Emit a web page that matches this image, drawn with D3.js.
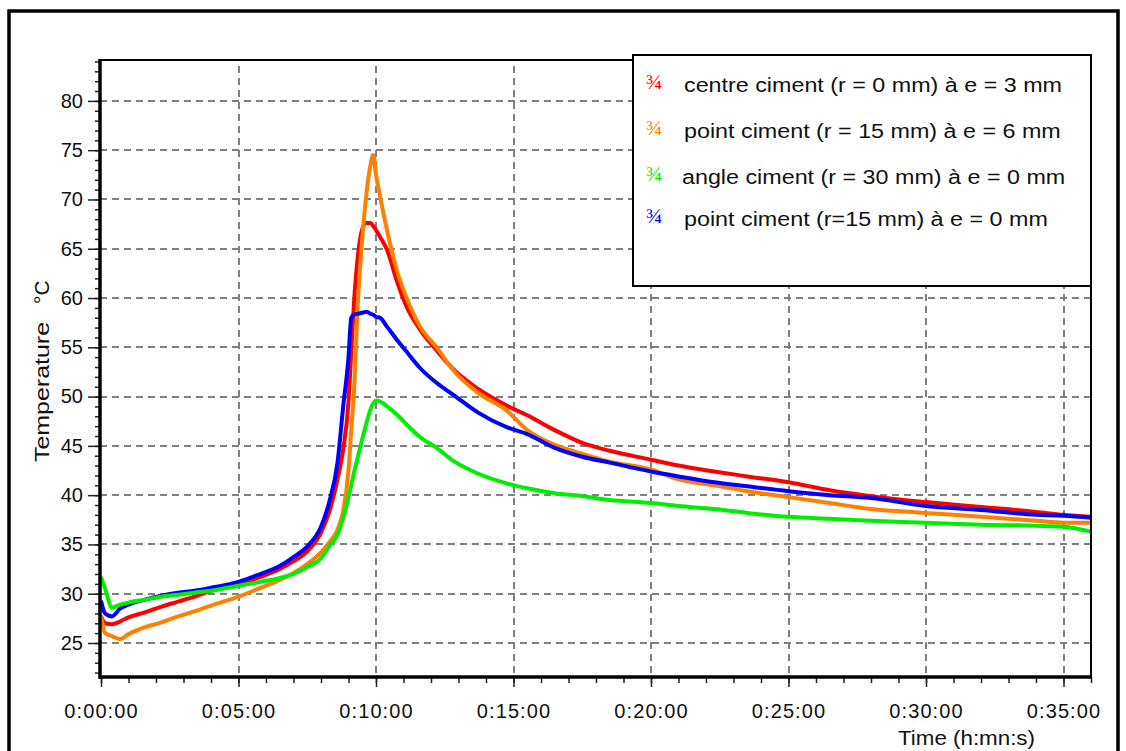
<!DOCTYPE html>
<html>
<head>
<meta charset="utf-8">
<title>Temperature ciment</title>
<script src="https://cdn.jsdelivr.net/npm/d3@7"></script>
<style>
  body { margin: 0; background: #fff; }
  svg text { font-family: "Liberation Sans", Arial, sans-serif; fill: #111; }
</style>
</head>
<body>
<script>
// time in minutes, shared by the four probes
var minutes = [0, 0.15, 0.4, 0.7, 1, 1.6, 2.2, 2.8, 3.4, 4, 5, 5.8, 6.5, 7, 7.5, 8, 8.3, 8.6, 8.8, 9,
  9.1, 9.2, 9.35, 9.5, 9.65, 9.8, 9.9, 10, 10.15, 10.4, 10.75, 11.1, 11.6, 12.2, 12.8, 13.7, 14.75,
  15.5, 16.5, 17.5, 18.5, 20, 21, 22.3, 23.5, 25, 26.5, 28, 30, 32, 34, 35, 36];

var redTemp = [27.7, 27.0, 26.9, 27.2, 27.6, 28.1, 28.7, 29.2, 29.7, 30.3, 31.0, 31.7, 32.5, 33.3, 34.3, 36.2, 38.3, 41.6, 44.5, 49.5,
  54.5, 59.5, 64.5, 67.0, 67.6, 67.6, 67.3, 66.9, 66.2, 64.9, 61.8, 59.2, 56.8, 54.7, 52.8, 50.8, 49.1,
  48.1, 46.6, 45.3, 44.5, 43.6, 43.0, 42.4, 41.9, 41.3, 40.5, 39.9, 39.3, 38.8, 38.3, 38.0, 37.8];
var orangeTemp = [27.8, 26.0, 25.7, 25.4, 25.9, 26.6, 27.1, 27.7, 28.2, 28.8, 29.7, 30.6, 31.4, 32.1, 33.0, 34.2, 35.2, 36.5, 38.3, 42.5,
  46.6, 50.5, 60.0, 66.0, 70.5, 73.5, 74.5, 72.5, 70.3, 66.9, 62.9, 60.1, 57.1, 55.0, 52.7, 50.4, 48.6,
  46.6, 45.1, 44.2, 43.4, 42.6, 41.6, 41.0, 40.4, 39.8, 39.2, 38.6, 38.2, 37.8, 37.4, 37.2, 37.2];
var greenTemp = [31.7, 30.5, 28.6, 28.9, 29.1, 29.4, 29.7, 29.9, 30.1, 30.3, 30.8, 31.2, 31.6, 32.0, 32.7, 33.6, 34.8, 36.0, 37.6, 39.8,
  41.0, 42.3, 44.0, 45.7, 47.3, 48.7, 49.3, 49.6, 49.5, 49.0, 48.2, 47.2, 45.9, 44.8, 43.5, 42.2, 41.2,
  40.7, 40.2, 39.9, 39.5, 39.2, 38.9, 38.6, 38.2, 37.8, 37.6, 37.4, 37.2, 37.0, 36.9, 36.8, 36.3];
var blueTemp = [29.3, 28.0, 27.7, 28.5, 28.9, 29.4, 29.8, 30.1, 30.3, 30.6, 31.2, 32.0, 32.8, 33.7, 34.8, 36.8, 39.3, 43.3, 48.8, 54.0,
  58.0, 58.3, 58.4, 58.5, 58.6, 58.4, 58.3, 58.1, 58.0, 57.1, 55.8, 54.6, 52.9, 51.4, 50.2, 48.4, 46.9,
  46.2, 44.8, 43.9, 43.3, 42.4, 41.9, 41.3, 40.9, 40.4, 40.0, 39.7, 38.9, 38.5, 38.0, 37.9, 37.7];

var legendLabels = [
  "centre ciment (r = 0 mm) à e = 3 mm",
  "point ciment (r = 15 mm) à e = 6 mm",
  "angle ciment (r = 30 mm) à e = 0 mm",
  "point ciment (r=15 mm) à e = 0 mm"
];
var seriesColors = ["#ff0000", "#ff8000", "#00ee00", "#0000ff"];

var xTicks = [0, 5, 10, 15, 20, 25, 30, 35];
var yTicks = [25, 30, 35, 40, 45, 50, 55, 60, 65, 70, 75, 80];

var W = 1126, H = 751;
var pLeft = 100, pRight = 1091, pTop = 60, pBottom = 677;

var svg = d3.select("body").append("svg")
  .attr("width", W)
  .attr("height", H);

var x = d3.scaleLinear().domain([0, 36]).range([101, pRight]);
var y = d3.scaleLinear().domain([21.55, 84.15]).range([pBottom, pTop]);

// outer frame (bottom runs off the picture)
svg.append("rect")
  .attr("x", 9).attr("y", 11)
  .attr("width", 1109).attr("height", 780)
  .attr("fill", "none").attr("stroke", "#000").attr("stroke-width", 3.5);

// dashed grid
var grid = svg.append("g").attr("stroke", "#808080").attr("stroke-width", 2).attr("stroke-dasharray", "7,5");
grid.selectAll(".gy").data(yTicks).enter().append("line")
  .attr("x1", pLeft).attr("x2", pRight)
  .attr("y1", function (d) { return Math.round(y(d)); })
  .attr("y2", function (d) { return Math.round(y(d)); });
grid.selectAll(".gx").data(xTicks.slice(1)).enter().append("line")
  .attr("y1", pTop + 6).attr("y2", pBottom)
  .attr("x1", function (d) { return Math.round(x(d)); })
  .attr("x2", function (d) { return Math.round(x(d)); });

// curves
svg.append("clipPath").attr("id", "plot").append("rect")
  .attr("x", pLeft).attr("y", pTop).attr("width", pRight - pLeft).attr("height", pBottom - pTop);

var series = [redTemp, orangeTemp, blueTemp, greenTemp];
var order = [0, 1, 3, 2];
var line = d3.line()
  .x(function (d, i) { return x(minutes[i]); })
  .y(function (d) { return y(d); })
  .curve(d3.curveMonotoneX);

svg.append("g").attr("clip-path", "url(#plot)")
  .selectAll("path").data(series).enter().append("path")
  .attr("d", line)
  .attr("fill", "none")
  .attr("stroke", function (d, i) { return seriesColors[order[i]]; })
  .attr("stroke-width", 4)
  .attr("stroke-linejoin", "round");

// plot frame
svg.append("rect")
  .attr("x", pLeft).attr("y", pTop).attr("width", pRight - pLeft).attr("height", pBottom - pTop)
  .attr("fill", "none").attr("stroke", "#000").attr("stroke-width", 2);

// axes
var fmt = function (m) { return "0:" + (m < 10 ? "0" + m : m) + ":00"; };

var xMinor = svg.append("g").attr("transform", "translate(0," + pBottom + ")")
  .call(d3.axisBottom(x).tickValues(d3.range(0, 37, 1)).tickSize(6).tickFormat(""));
var xMajor = svg.append("g").attr("transform", "translate(0," + pBottom + ")")
  .call(d3.axisBottom(x).tickValues(xTicks).tickSize(10).tickPadding(17).tickFormat(fmt));
var yMinor = svg.append("g").attr("transform", "translate(" + pLeft + ",0)")
  .call(d3.axisLeft(y).tickValues(d3.range(22, 85, 1)).tickSize(5).tickFormat(""));
var yMajor = svg.append("g").attr("transform", "translate(" + pLeft + ",0)")
  .call(d3.axisLeft(y).tickValues(yTicks).tickSize(12).tickPadding(5));

[xMinor, xMajor, yMinor, yMajor].forEach(function (g) {
  g.select(".domain").remove();
  g.selectAll(".tick line").attr("stroke", "#222").attr("stroke-width", 1.5);
});
xMajor.selectAll("text").attr("font-size", 20).attr("letter-spacing", "1.1px").attr("fill", "#111")
  .attr("font-family", "Liberation Sans, Arial, sans-serif");
yMajor.selectAll("text").attr("font-size", 20).attr("fill", "#111")
  .attr("font-family", "Liberation Sans, Arial, sans-serif");

// thick left and bottom axis lines
svg.append("line").attr("x1", pLeft).attr("x2", pLeft).attr("y1", pTop - 1).attr("y2", pBottom + 2)
  .attr("stroke", "#000").attr("stroke-width", 3.5);
svg.append("line").attr("x1", pLeft).attr("x2", pRight + 1).attr("y1", pBottom).attr("y2", pBottom)
  .attr("stroke", "#000").attr("stroke-width", 3.5);

// axis titles
svg.append("text")
  .attr("transform", "translate(49,462) rotate(-90)")
  .attr("font-size", 21)
  .attr("textLength", 140).attr("lengthAdjust", "spacingAndGlyphs")
  .text("Temperature");
svg.append("text")
  .attr("transform", "translate(49,304) rotate(-90)")
  .attr("font-size", 21)
  .text("°C");
svg.append("text")
  .attr("x", 898).attr("y", 745)
  .attr("font-size", 20)
  .attr("textLength", 137).attr("lengthAdjust", "spacingAndGlyphs")
  .text("Time (h:mn:s)");

// legend
var legend = svg.append("g");
legend.append("rect")
  .attr("x", 633).attr("y", 55).attr("width", 458).attr("height", 231)
  .attr("fill", "#fff").attr("stroke", "#000").attr("stroke-width", 2);
var rowY = [92, 138, 184, 226];
var rows = legend.selectAll(".row").data(legendLabels).enter().append("g")
  .attr("transform", function (d, i) { return "translate(0," + rowY[i] + ")"; });
rows.append("text")
  .attr("x", 646).attr("y", -3)
  .attr("font-size", 22)
  .style("font-family", "Liberation Serif, serif")
  .style("fill", function (d, i) { return seriesColors[i]; })
  .text("¾");
rows.append("text")
  .attr("transform", function (d, i) { return "translate(" + (i === 2 ? 682 : 684) + ",0) scale(1.11,1)"; })
  .attr("font-size", 21)
  .text(function (d) { return d; });
</script>
</body>
</html>
